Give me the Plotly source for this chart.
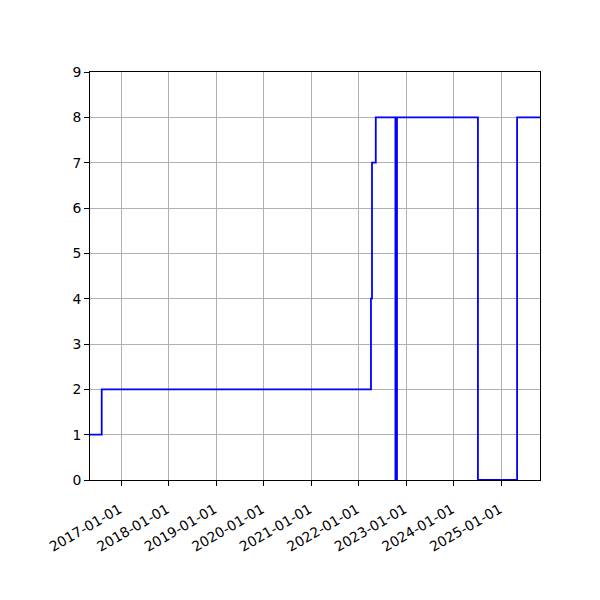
import plotly.graph_objects as go

# step dates (value holds until the next date)
dates = ["2016-05-05", "2016-08-03", "2022-04-03", "2022-04-11", "2022-05-10",
         "2022-10-08", "2022-10-20", "2024-07-03", "2025-04-30", "2025-10-23"]
values = [1, 2, 4, 7, 8, 0, 8, 0, 8, 8]

tickvals = ["2017-01-01", "2018-01-01", "2019-01-01", "2020-01-01", "2021-01-01",
            "2022-01-01", "2023-01-01", "2024-01-01", "2025-01-01"]

fig = go.Figure()
fig.add_trace(go.Scatter(x=dates, y=values, mode="lines",
                         line=dict(color="blue", width=1.8, shape="hv")))

axis_style = dict(showline=True, linecolor="black", linewidth=1, mirror=True,
                  ticks="outside", ticklen=5, tickcolor="black",
                  showgrid=True, gridcolor="#b0b0b0", gridwidth=0.8, zeroline=False)

fig.update_xaxes(range=["2016-05-05", "2025-10-23"], tickvals=tickvals, ticktext=tickvals,
                 tickangle=-30, ticklabelshift=-2, ticklabelstandoff=10, **axis_style)
fig.update_yaxes(range=[0, 9], tickvals=list(range(10)), **axis_style)

# page body adds ~8px, so margins are shifted to land the plot box at 90..540 / 72..480
fig.update_layout(width=600, height=600, showlegend=False,
                  margin=dict(l=82, r=68, t=64, b=128),
                  plot_bgcolor="white", paper_bgcolor="white",
                  font=dict(family="DejaVu Sans", size=13.9, color="black"))

fig.write_html("out.html")
